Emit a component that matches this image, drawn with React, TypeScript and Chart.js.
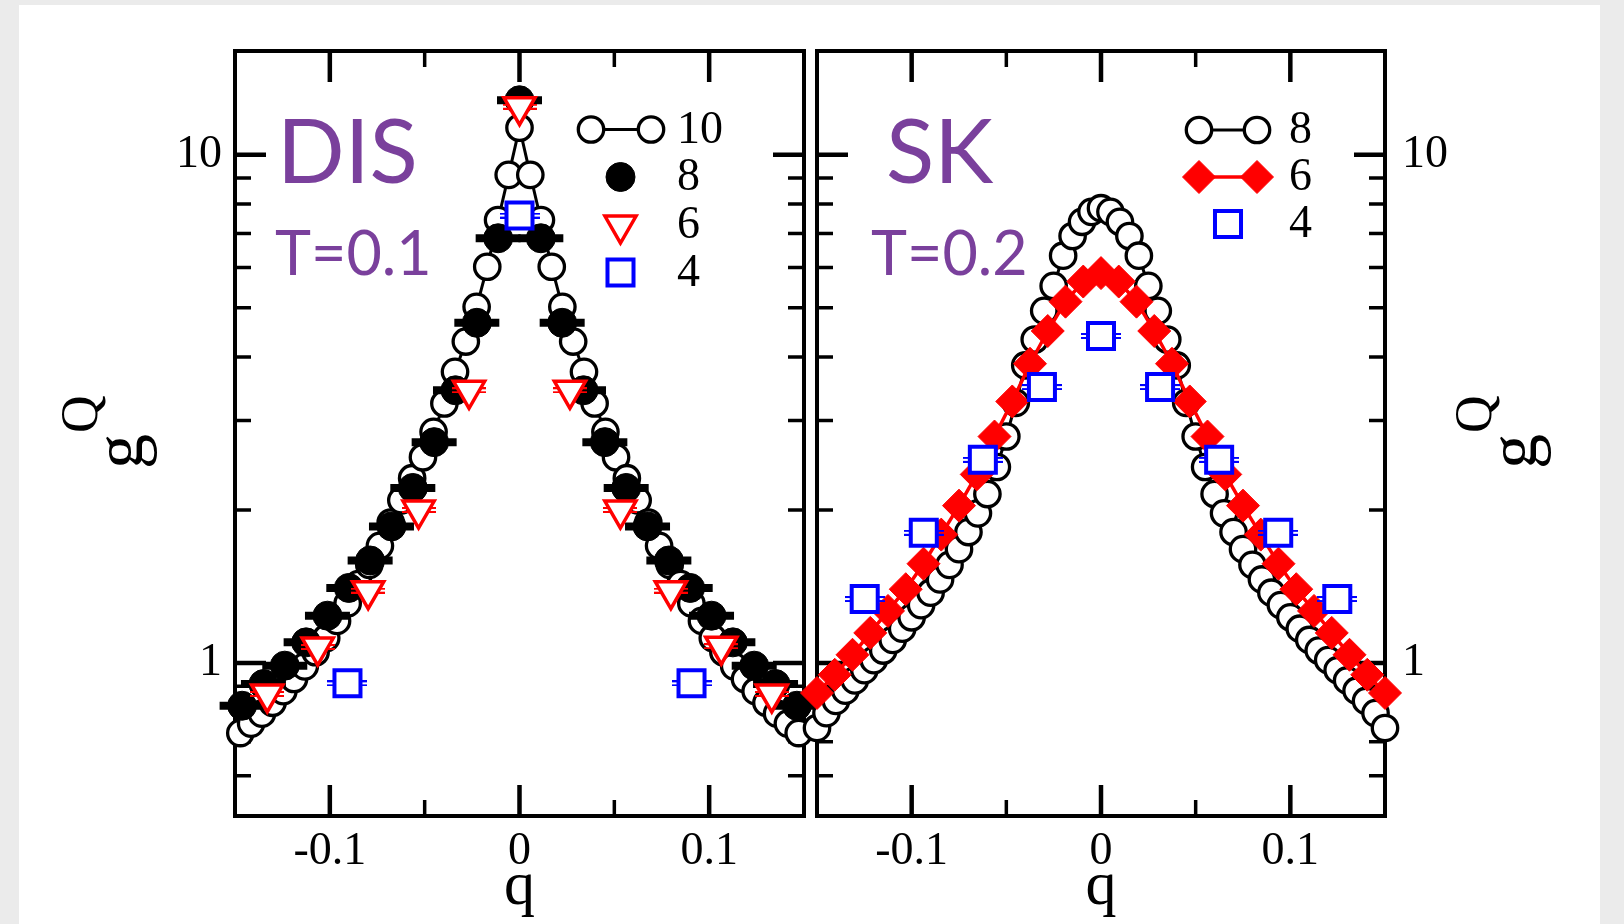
import React, { useEffect, useRef } from 'react';
import { Chart, registerables } from 'chart.js';

Chart.register(...registerables);

const SERIF = "'Liberation Serif', 'Times New Roman', serif";
const SANS = "Lato, 'Noto Sans', sans-serif";
const PURPLE = '#7a409c';
const RED = '#ff0000';
const BLUE = '#0000ff';

// ---------- axes ----------
const X_MAJOR_TICKS = [-0.1, 0, 0.1];
const X_TICK_LABELS = ['-0.1', '0', '0.1'];
const X_MINOR_TICKS = [-0.05, 0.05];
const Y_MAJOR_TICKS = [1, 10];
const Y_TICK_LABELS = ['1', '10'];
const Y_MINOR_TICKS = [0.6, 0.7, 0.8, 0.9, 2, 3, 4, 5, 6, 7, 8, 9];

// ---------- DIS, T=0.1 ----------
const DIS_L10_Q = [-0.1472, -0.1415, -0.1358, -0.1302, -0.1245, -0.1189, -0.1132, -0.1075, -0.1019, -0.0962, -0.0906, -0.0849, -0.0792, -0.0736, -0.0679, -0.0623, -0.0566, -0.0509, -0.0453, -0.0396, -0.034, -0.0283, -0.0226, -0.017, -0.0113, -0.0057, 0, 0.0057, 0.0113, 0.017, 0.0226, 0.0283, 0.034, 0.0396, 0.0453, 0.0509, 0.0566, 0.0623, 0.0679, 0.0736, 0.0792, 0.0849, 0.0906, 0.0962, 0.1019, 0.1075, 0.1132, 0.1189, 0.1245, 0.1302, 0.1358, 0.1415, 0.1472];
const DIS_L10_G = [0.728, 0.76, 0.795, 0.835, 0.88, 0.93, 0.985, 1.05, 1.12, 1.21, 1.31, 1.43, 1.56, 1.7, 1.89, 2.09, 2.31, 2.54, 2.85, 3.24, 3.74, 4.29, 5.02, 6.02, 7.44, 9.13, 11.3, 9.13, 7.44, 6.02, 5.02, 4.29, 3.74, 3.24, 2.85, 2.54, 2.31, 2.09, 1.89, 1.7, 1.56, 1.43, 1.31, 1.21, 1.12, 1.05, 0.985, 0.93, 0.88, 0.835, 0.795, 0.76, 0.728];

const DIS_L8_Q = [-0.14625, -0.135, -0.12375, -0.1125, -0.10125, -0.09, -0.07875, -0.0675, -0.05625, -0.045, -0.03375, -0.0225, -0.01125, 0, 0.01125, 0.0225, 0.03375, 0.045, 0.05625, 0.0675, 0.07875, 0.09, 0.10125, 0.1125, 0.12375, 0.135, 0.14625];
const DIS_L8_G = [0.824, 0.909, 0.988, 1.098, 1.239, 1.405, 1.591, 1.857, 2.21, 2.72, 3.44, 4.67, 6.85, 12.8, 6.85, 4.67, 3.44, 2.72, 2.21, 1.857, 1.591, 1.405, 1.239, 1.098, 0.988, 0.909, 0.824];

const DIS_L6_Q = [-0.133, -0.1064, -0.0798, -0.0532, -0.0266, 0, 0.0266, 0.0532, 0.0798, 0.1064, 0.133];
const DIS_L6_G = [0.869, 1.075, 1.388, 2.0, 3.44, 12.43, 3.44, 2.0, 1.388, 1.079, 0.869];

const DIS_L4_Q = [-0.0907, 0, 0.0907];
const DIS_L4_G = [0.912, 7.59, 0.912];

// ---------- SK, T=0.2 ----------
const SK_L8_Q = [-0.15, -0.145, -0.14, -0.135, -0.13, -0.125, -0.12, -0.115, -0.11, -0.105, -0.1, -0.095, -0.09, -0.085, -0.08, -0.075, -0.07, -0.065, -0.06, -0.055, -0.05, -0.045, -0.04, -0.035, -0.03, -0.025, -0.02, -0.015, -0.01, -0.005, 0, 0.005, 0.01, 0.015, 0.02, 0.025, 0.03, 0.035, 0.04, 0.045, 0.05, 0.055, 0.06, 0.065, 0.07, 0.075, 0.08, 0.085, 0.09, 0.095, 0.1, 0.105, 0.11, 0.115, 0.12, 0.125, 0.13, 0.135, 0.14, 0.145, 0.15];
const SK_L8_G = [0.745, 0.797, 0.842, 0.882, 0.924, 0.968, 1.013, 1.058, 1.11, 1.168, 1.23, 1.3, 1.375, 1.46, 1.56, 1.675, 1.81, 1.97, 2.15, 2.43, 2.79, 3.25, 3.85, 4.33, 4.93, 5.52, 6.33, 6.92, 7.38, 7.72, 7.85, 7.72, 7.38, 6.92, 6.33, 5.52, 4.93, 4.33, 3.85, 3.25, 2.79, 2.43, 2.15, 1.97, 1.81, 1.675, 1.56, 1.46, 1.375, 1.3, 1.23, 1.168, 1.11, 1.058, 1.013, 0.968, 0.924, 0.882, 0.842, 0.797, 0.745];

const SK_L6_Q = [-0.15, -0.140625, -0.13125, -0.121875, -0.1125, -0.103125, -0.09375, -0.084375, -0.075, -0.065625, -0.05625, -0.046875, -0.0375, -0.028125, -0.01875, -0.009375, 0, 0.009375, 0.01875, 0.028125, 0.0375, 0.046875, 0.05625, 0.065625, 0.075, 0.084375, 0.09375, 0.103125, 0.1125, 0.121875, 0.13125, 0.140625, 0.15];
const SK_L6_G = [0.873, 0.948, 1.038, 1.146, 1.266, 1.397, 1.568, 1.789, 2.04, 2.35, 2.79, 3.27, 3.88, 4.5, 5.14, 5.63, 5.85, 5.63, 5.14, 4.5, 3.88, 3.27, 2.79, 2.35, 2.04, 1.789, 1.568, 1.397, 1.266, 1.146, 1.038, 0.948, 0.873];

const SK_L4_Q = [-0.1248, -0.0936, -0.0624, -0.0312, 0, 0.0312, 0.0624, 0.0936, 0.1248];
const SK_L4_G = [1.336, 1.804, 2.51, 3.49, 4.4, 3.49, 2.51, 1.804, 1.336];

const pts = (q: number[], g: number[]) => q.map((x, i) => ({ x, y: g[i] }));

function makeCap(color: string, width: number, lineW: number, gap: number) {
  const c = document.createElement('canvas');
  c.width = width;
  c.height = lineW * 2 + gap;
  const g = c.getContext('2d')!;
  g.fillStyle = color;
  g.fillRect(0, 0, width, lineW);
  g.fillRect(0, lineW + gap, width, lineW);
  return c;
}

function drawMarker(ctx: CanvasRenderingContext2D, style: string, x: number, y: number, r: number, rot: number, fill: string | null, stroke: string, bw: number) {
  ctx.save();
  ctx.beginPath();
  if (style === 'circle') {
    ctx.arc(x, y, r, 0, Math.PI * 2);
  } else if (style === 'triangle') {
    let a = (rot * Math.PI) / 180;
    for (let i = 0; i < 3; i++) {
      const px = x + Math.sin(a) * r;
      const py = y - Math.cos(a) * r;
      if (i === 0) ctx.moveTo(px, py);
      else ctx.lineTo(px, py);
      a += (2 * Math.PI) / 3;
    }
    ctx.closePath();
  } else if (style === 'rect') {
    const s = Math.SQRT1_2 * r;
    ctx.rect(x - s, y - s, 2 * s, 2 * s);
  } else if (style === 'rectRot') {
    ctx.moveTo(x - r, y);
    ctx.lineTo(x, y - r);
    ctx.lineTo(x + r, y);
    ctx.lineTo(x, y + r);
    ctx.closePath();
  }
  if (fill) {
    ctx.fillStyle = fill;
    ctx.fill();
  }
  if (bw > 0) {
    ctx.lineWidth = bw;
    ctx.strokeStyle = stroke;
    ctx.stroke();
  }
  ctx.restore();
}

const MAJOR_LEN = 31;
const MINOR_LEN = 16;

const framePlugin = {
  id: 'frame',
  beforeDatasetsDraw(chart: any) {
    const { ctx, chartArea: a, scales } = chart;
    const xs = scales.x;
    const ys = scales.y;
    ctx.save();
    ctx.strokeStyle = '#000';
    ctx.lineCap = 'butt';
    const seg = (x1: number, y1: number, x2: number, y2: number, w: number) => {
      ctx.lineWidth = w;
      ctx.beginPath();
      ctx.moveTo(x1, y1);
      ctx.lineTo(x2, y2);
      ctx.stroke();
    };
    const xt = (vals: number[], len: number, w: number) =>
      vals.forEach((v) => {
        const p = xs.getPixelForValue(v);
        seg(p, a.bottom, p, a.bottom - len, w);
        seg(p, a.top, p, a.top + len, w);
      });
    const yt = (vals: number[], len: number, w: number) =>
      vals.forEach((v) => {
        const p = ys.getPixelForValue(v);
        seg(a.left, p, a.left + len, p, w);
        seg(a.right, p, a.right - len, p, w);
      });
    xt(X_MAJOR_TICKS, MAJOR_LEN, 4.5);
    xt(X_MINOR_TICKS, MINOR_LEN, 3.5);
    yt(Y_MAJOR_TICKS, MAJOR_LEN, 4.5);
    yt(Y_MINOR_TICKS, MINOR_LEN, 3.5);
    ctx.lineWidth = 4;
    ctx.strokeRect(a.left, a.top, a.right - a.left, a.bottom - a.top);
    ctx.restore();
  },
};

const legendPlugin = {
  id: 'panelLegend',
  afterDatasetsDraw(chart: any, _args: any, opts: any) {
    const { ctx, chartArea: a } = chart;
    ctx.save();
    opts.entries.forEach((e: any) => {
      const ds = chart.data.datasets[e.ds];
      const y = a.top + e.dy;
      const style = ds.pointStyle;
      const rot = ds.pointRotation || 0;
      const r = ds.pointRadius;
      const fill = ds.pointBackgroundColor;
      const stroke = ds.pointBorderColor;
      const bw = ds.pointBorderWidth;
      if (e.line) {
        const x1 = a.right + opts.x1;
        const x2 = a.right + opts.x2;
        ctx.strokeStyle = ds.borderColor;
        ctx.lineWidth = ds.borderWidth;
        ctx.beginPath();
        ctx.moveTo(x1, y);
        ctx.lineTo(x2, y);
        ctx.stroke();
        drawMarker(ctx, style, x1, y, r, rot, fill, stroke, bw);
        drawMarker(ctx, style, x2, y, r, rot, fill, stroke, bw);
      } else {
        drawMarker(ctx, style, a.right + opts.xm, y, r, rot, fill, stroke, bw);
      }
      ctx.fillStyle = '#000';
      ctx.font = `46px ${SERIF}`;
      ctx.textAlign = 'left';
      ctx.textBaseline = 'middle';
      ctx.fillText(ds.label, a.right + opts.xt, y + 1);
    });
    ctx.restore();
  },
};

const textPlugin = {
  id: 'panelText',
  afterDraw(chart: any, _args: any, opts: any) {
    const { ctx, chartArea: a } = chart;
    ctx.save();
    ctx.fillStyle = PURPLE;
    ctx.textAlign = 'left';
    ctx.textBaseline = 'alphabetic';
    opts.items.forEach((it: any) => {
      ctx.font = `${it.size}px ${SANS}`;
      ctx.fillText(it.text, a.left + it.dx, a.top + it.dy);
    });
    // rotated y-axis title: g with Q
    const t = opts.ytitle;
    const base = t.side === 'left' ? a.left : a.right;
    ctx.fillStyle = '#000';
    ctx.rotate(-Math.PI / 2);
    ctx.font = `70px ${SERIF}`;
    ctx.fillText('g', -469, base + t.gx);
    ctx.font = `52px ${SERIF}`;
    ctx.fillText('Q', -433, base + t.qx);
    ctx.restore();
  },
};

function xScale() {
  return {
    type: 'linear',
    min: -0.15,
    max: 0.15,
    afterBuildTicks: (s: any) => {
      s.ticks = X_MAJOR_TICKS.map((v) => ({ value: v }));
    },
    afterFit: (s: any) => {
      s.height = 108;
    },
    grid: { display: false },
    border: { display: false },
    ticks: {
      autoSkip: false,
      maxRotation: 0,
      padding: 0,
      color: '#000',
      font: { family: SERIF, size: 46 },
      callback: (v: number) => {
        const i = X_MAJOR_TICKS.indexOf(v);
        return i >= 0 ? X_TICK_LABELS[i] : '';
      },
    },
    title: {
      display: true,
      text: 'q',
      color: '#000',
      font: { family: SERIF, size: 62, lineHeight: 1 },
      padding: { top: 0, bottom: 5 },
    },
  };
}

function yScale(position: string, width: number, pad: number) {
  return {
    type: 'logarithmic',
    position,
    min: 0.5,
    max: 16,
    afterBuildTicks: (s: any) => {
      s.ticks = Y_MAJOR_TICKS.map((v) => ({ value: v }));
    },
    afterFit: (s: any) => {
      s.width = width;
    },
    grid: { display: false },
    border: { display: false },
    ticks: {
      autoSkip: false,
      padding: pad,
      color: '#000',
      font: { family: SERIF, size: 46 },
      callback: (v: number) => {
        const i = Y_MAJOR_TICKS.indexOf(v);
        return i >= 0 ? Y_TICK_LABELS[i] : '';
      },
    },
  };
}

function openCircle(label: string, q: number[], g: number[], order: number) {
  return {
    label,
    data: pts(q, g),
    showLine: true,
    borderColor: '#000',
    borderWidth: 3,
    pointStyle: 'circle',
    pointRadius: 12.7,
    pointBorderWidth: 3.3,
    pointBorderColor: '#000',
    pointBackgroundColor: '#fff',
    clip: false,
    order,
  };
}

function capSet(q: number[], g: number[], style: any, order: number, extra: any = {}) {
  return {
    label: '',
    data: pts(q, g),
    showLine: false,
    pointStyle: style,
    pointRadius: 20,
    pointBorderWidth: 0,
    pointBackgroundColor: 'rgba(0,0,0,0)',
    pointBorderColor: 'rgba(0,0,0,0)',
    clip: false,
    order,
    ...extra,
  };
}

function squares(label: string, q: number[], g: number[], order: number) {
  return {
    label,
    data: pts(q, g),
    showLine: false,
    pointStyle: 'rect',
    pointRadius: 18.4,
    pointBorderWidth: 4,
    pointBorderColor: BLUE,
    pointBackgroundColor: '#fff',
    clip: false,
    order,
  };
}

function baseOptions(padding: any, scales: any, legend: any, texts: any) {
  return {
    responsive: false,
    animation: false,
    devicePixelRatio: 1,
    events: [],
    layout: { padding },
    scales,
    plugins: {
      legend: { display: false },
      tooltip: { enabled: false },
      panelLegend: legend,
      panelText: texts,
    },
  };
}

function leftConfig(): any {
  const redCap = makeCap(RED, 34, 2, 2);
  const blueCap = makeCap(BLUE, 40, 2, 2);
  return {
    type: 'scatter',
    data: {
      datasets: [
        openCircle('10', DIS_L10_Q, DIS_L10_G, 10),
        capSet(DIS_L8_Q, DIS_L8_G, 'line', 9, { pointRadius: 22.5, pointBorderWidth: 8, pointBorderColor: '#000' }),
        {
          label: '8',
          data: pts(DIS_L8_Q, DIS_L8_G),
          showLine: false,
          pointStyle: 'circle',
          pointRadius: 14.5,
          pointBorderWidth: 1,
          pointBorderColor: '#000',
          pointBackgroundColor: '#000',
          clip: false,
          order: 8,
        },
        capSet(DIS_L6_Q, DIS_L6_G, redCap, 7),
        {
          label: '6',
          data: pts(DIS_L6_Q, DIS_L6_G),
          showLine: false,
          pointStyle: 'triangle',
          pointRotation: 180,
          pointRadius: 18,
          pointBorderWidth: 3.5,
          pointBorderColor: RED,
          pointBackgroundColor: '#fff',
          clip: false,
          order: 6,
        },
        capSet(DIS_L4_Q, DIS_L4_G, blueCap, 5),
        squares('4', DIS_L4_Q, DIS_L4_G, 4),
      ],
    },
    options: baseOptions(
      { left: 0, top: 51, right: 820, bottom: 0 },
      { x: xScale(), y: yScale('left', 235, 5) },
      {
        x1: -213, x2: -153, xm: -183.5, xt: -127,
        entries: [
          { ds: 0, line: true, dy: 78.5 },
          { ds: 2, dy: 126 },
          { ds: 4, dy: 174 },
          { ds: 6, dy: 221.5 },
        ],
      },
      {
        items: [
          { text: 'DIS', size: 89, dx: 42, dy: 132.3 },
          { text: 'T=0.1', size: 61, dx: 40, dy: 224 },
        ],
        ytitle: { side: 'left', gx: -93, qx: -137.6 },
      }
    ),
    plugins: [framePlugin, legendPlugin, textPlugin],
  };
}

function rightConfig(): any {
  const blueCap = makeCap(BLUE, 40, 2, 2);
  return {
    type: 'scatter',
    data: {
      datasets: [
        openCircle('8', SK_L8_Q, SK_L8_G, 10),
        {
          label: '6',
          data: pts(SK_L6_Q, SK_L6_G),
          showLine: true,
          borderColor: RED,
          borderWidth: 3.5,
          pointStyle: 'rectRot',
          pointRadius: 16.5,
          pointBorderWidth: 1,
          pointBorderColor: RED,
          pointBackgroundColor: RED,
          clip: false,
          order: 8,
        },
        capSet(SK_L4_Q, SK_L4_G, blueCap, 5),
        squares('4', SK_L4_Q, SK_L4_G, 4),
      ],
    },
    options: baseOptions(
      { left: 817, top: 51, right: 0, bottom: 0 },
      { x: xScale(), y: yScale('right', 239, 9) },
      {
        x1: -186, x2: -128, xm: -157, xt: -96,
        entries: [
          { ds: 0, line: true, dy: 79 },
          { ds: 1, line: true, dy: 126 },
          { ds: 3, dy: 173 },
        ],
      },
      {
        items: [
          { text: 'SK', size: 89, dx: 69, dy: 132 },
          { text: 'T=0.2', size: 61, dx: 54, dy: 224 },
        ],
        ytitle: { side: 'right', gx: 151, qx: 106.4 },
      }
    ),
    plugins: [framePlugin, legendPlugin, textPlugin],
  };
}

export default function App() {
  const leftRef = useRef<HTMLCanvasElement>(null);
  const rightRef = useRef<HTMLCanvasElement>(null);
  useEffect(() => {
    const c1 = new Chart(leftRef.current as HTMLCanvasElement, leftConfig());
    const c2 = new Chart(rightRef.current as HTMLCanvasElement, rightConfig());
    return () => {
      c1.destroy();
      c2.destroy();
    };
  }, []);
  return (
    <div style={{ position: 'fixed', left: 0, top: 0, width: 1624, height: 924, background: '#ebebeb', overflow: 'hidden' }}>
      <div style={{ position: 'absolute', left: 19, top: 5, width: 1581, height: 919, background: '#ffffff' }} />
      <canvas ref={leftRef} width={1624} height={924} style={{ position: 'absolute', left: 0, top: 0 }} />
      <canvas ref={rightRef} width={1624} height={924} style={{ position: 'absolute', left: 0, top: 0 }} />
    </div>
  );
}
